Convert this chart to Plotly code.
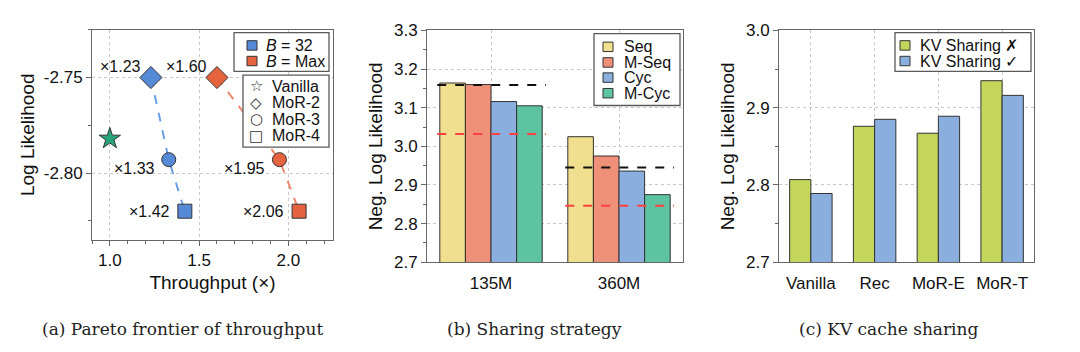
import plotly.graph_objects as go

# ---------------- Data ----------------
# Panel (a): Pareto frontier of throughput
vanilla_tp = [1.0]
vanilla_ll = [-2.782]
mor_names = ["MoR-2", "MoR-3", "MoR-4"]
b32_tp = [1.23, 1.33, 1.42]
b32_ll = [-2.750, -2.793, -2.820]
bmax_tp = [1.60, 1.95, 2.06]
bmax_ll = [-2.750, -2.793, -2.820]
a_xticks = [1.0, 1.5, 2.0]
a_yticks = [-2.75, -2.80]

# Panel (b): Sharing strategy
model_sizes = ["135M", "360M"]
strategies = ["Seq", "M-Seq", "Cyc", "M-Cyc"]
nll_seq = [3.164, 3.025]
nll_mseq = [3.160, 2.975]
nll_cyc = [3.116, 2.936]
nll_mcyc = [3.105, 2.875]
ref_black = [3.159, 2.945]
ref_red = [3.032, 2.846]
b_yticks = [2.7, 2.8, 2.9, 3.0, 3.1, 3.2, 3.3]

# Panel (c): KV cache sharing
kv_models = ["Vanilla", "Rec", "MoR-E", "MoR-T"]
kv_series = ["KV Sharing ✗", "KV Sharing ✓"]
kv_off = [2.807, 2.876, 2.867, 2.935]
kv_on = [2.789, 2.885, 2.889, 2.916]
c_yticks = [2.7, 2.8, 2.9, 3.0]

# ---------------- Style ----------------
SANS = "Liberation Sans, Arial, Helvetica, sans-serif"
SERIF = "DejaVu Serif, serif"
AX = "#666666"
GRID = "#c8c8c8"
EDGE = "#333333"
BLUE = "#5689d6"
BLUE_L = "#6a9fe6"
ORANGE = "#e6633f"
ORANGE_L = "#f0876c"
STAR = "#27a47a"
bar_cols_b = ["#f0df8e", "#ef9078", "#8aaedd", "#5ec3a0"]
bar_cols_c = ["#c3d55a", "#8aaedd"]
label_pos = {"MoR-2": (-8, 11), "MoR-3": (-12, -9), "MoR-4": (-13, 0)}
W, H = 1080, 352

fig = go.Figure()

# ---- Panel (a) ----
for tp, ll, lc, mc in [(b32_tp, b32_ll, BLUE_L, BLUE), (bmax_tp, bmax_ll, ORANGE_L, ORANGE)]:
    fig.add_trace(go.Scatter(
        x=tp, y=ll, mode="lines", xaxis="x", yaxis="y",
        line=dict(color=lc, width=2, dash="dash"), hoverinfo="skip"))
    fig.add_trace(go.Scatter(
        x=tp, y=ll, mode="markers", xaxis="x", yaxis="y", text=mor_names,
        marker=dict(symbol=["diamond", "circle", "square"], size=[17, 14, 14], opacity=1,
                    color=mc, line=dict(color=EDGE, width=1))))
fig.add_trace(go.Scatter(
    x=vanilla_tp, y=vanilla_ll, mode="markers", xaxis="x", yaxis="y", text=["Vanilla"],
    marker=dict(symbol="star", size=16, color=STAR, opacity=1, line=dict(color=EDGE, width=1))))

annotations = []
for tp, ll in [(b32_tp, b32_ll), (bmax_tp, bmax_ll)]:
    for x, y, name in zip(tp, ll, mor_names):
        dx, dy = label_pos[name]
        annotations.append(dict(
            x=x, y=y, xref="x", yref="y", text="×%.2f" % x, showarrow=False,
            xanchor="right", yanchor="middle", xshift=dx, yshift=dy,
            font=dict(family=SANS, size=16, color="#111")))

# ---- Panel (b) ----
b_series = [nll_seq, nll_mseq, nll_cyc, nll_mcyc]
for i, (name, vals) in enumerate(zip(strategies, b_series)):
    fig.add_trace(go.Bar(
        x=model_sizes, y=vals, name=name, xaxis="x2", yaxis="y2",
        width=0.2, offset=-0.4 + 0.2 * i,
        marker=dict(color=bar_cols_b[i], line=dict(color=EDGE, width=1))))

shapes = []
for i in range(len(model_sizes)):
    for vals, col in [(ref_black, "#111111"), (ref_red, "#ff4040")]:
        shapes.append(dict(type="line", xref="x2", yref="y2", x0=i - 0.42, x1=i + 0.43,
                           y0=vals[i], y1=vals[i], layer="above",
                           line=dict(color=col, width=2, dash="dash")))

# ---- Panel (c) ----
for i, (name, vals) in enumerate(zip(kv_series, [kv_off, kv_on])):
    fig.add_trace(go.Bar(
        x=kv_models, y=vals, name=name, xaxis="x3", yaxis="y3",
        width=0.333, offset=-0.333 + 0.333 * i,
        marker=dict(color=bar_cols_c[i], line=dict(color=EDGE, width=1))))

# ---------------- Legends (drawn as boxes + text) ----------------
def px(x):
    return x / W

def py(y):
    return 1 - y / H

def legend_box(x0, y0, x1, y1):
    shapes.append(dict(type="rect", xref="paper", yref="paper", x0=px(x0), x1=px(x1),
                       y0=py(y1), y1=py(y0), fillcolor="white",
                       line=dict(color="#5a5a5a", width=1.3), layer="above"))

def legend_square(cx, cy, color, s=10):
    shapes.append(dict(type="rect", xref="paper", yref="paper",
                       x0=px(cx - s / 2), x1=px(cx + s / 2), y0=py(cy + s / 2), y1=py(cy - s / 2),
                       fillcolor=color, line=dict(color=EDGE, width=1), layer="above"))

def legend_text(x, cy, text, size=16, anchor="left"):
    annotations.append(dict(x=px(x), y=py(cy), xref="paper", yref="paper", text=text,
                            showarrow=False, xanchor=anchor, yanchor="middle",
                            font=dict(family=SANS, size=size, color="#111")))

# (a) batch-size legend
legend_box(234, 25, 329, 66)
for (name, col), cy in zip([("<i>B</i> = 32", BLUE), ("<i>B</i> = Max", ORANGE)], [38.5, 55]):
    legend_square(252, cy, col)
    legend_text(264, cy, name)
# (a) model legend with open symbols
legend_box(243, 70, 329, 146)
glyphs = ["☆", "◇", "○", "□"]
for name, g, cy in zip(["Vanilla"] + mor_names, glyphs, [81.5, 99, 116.5, 134]):
    annotations.append(dict(x=px(256), y=py(cy), xref="paper", yref="paper", text=g,
                            showarrow=False, xanchor="center", yanchor="middle",
                            font=dict(family="DejaVu Sans", size=15, color="#333")))
    legend_text(270, cy, name)
# (b) strategy legend
legend_box(594, 26, 680, 102)
for name, col, cy in zip(strategies, bar_cols_b, [40, 56.5, 72.5, 89]):
    legend_square(608, cy, col)
    legend_text(622, cy, name)
# (c) kv legend
legend_box(895, 25, 1031, 66)
for name, col, cy in zip(kv_series, bar_cols_c, [38.5, 55]):
    legend_square(905, cy, col)
    legend_text(918, cy, name)

# ---------------- Layout ----------------
def axis_common(**kw):
    d = dict(showline=True, linecolor=AX, linewidth=1, mirror=True,
             ticks="outside", ticklen=5, tickcolor=AX, tickwidth=1,
             showgrid=True, gridcolor=GRID, griddash="dot", gridwidth=1,
             zeroline=False, tickfont=dict(family=SANS, size=17, color="#111"),
             title_font=dict(family=SANS, size=19, color="#111"))
    d.update(kw)
    return d

ya, yat = py(244), py(22)
yb, ybt = py(267.7), py(22.7)

layout = dict(
    width=W, height=H, autosize=False,
    margin=dict(l=0, r=0, t=0, b=0),
    paper_bgcolor="white", plot_bgcolor="white",
    barmode="overlay",
    showlegend=False,
    xaxis=axis_common(domain=[px(92), px(333)], anchor="y", range=[0.9, 2.25],
                      tickmode="array", tickvals=a_xticks, ticktext=["%.1f" % v for v in a_xticks],
                      minor=dict(dtick=0.1, tick0=0.9, ticks="outside", ticklen=3, tickcolor=AX, showgrid=False),
                      title=dict(text="Throughput (×)", standoff=6)),
    yaxis=axis_common(domain=[ya, yat], anchor="x", range=[-2.835, -2.725],
                      tickmode="array", tickvals=a_yticks, ticktext=["%.2f" % v for v in a_yticks],
                      minor=dict(dtick=0.025, tick0=-2.75, ticks="outside", ticklen=3, tickcolor=AX, showgrid=False),
                      title=dict(text="Log Likelihood", standoff=4)),
    xaxis2=axis_common(domain=[px(427), px(683)], anchor="y2", range=[-0.5, 1.5],
                       type="category", ticks="", ticklabelstandoff=5, title=None),
    yaxis2=axis_common(domain=[yb, ybt], anchor="x2", range=[2.7, 3.3],
                       tickmode="array", tickvals=b_yticks, ticktext=["%.1f" % v for v in b_yticks],
                       minor=dict(dtick=0.05, tick0=2.7, ticks="outside", ticklen=3, tickcolor=AX, showgrid=False),
                       title=dict(text="Neg. Log Likelihood", standoff=6)),
    xaxis3=axis_common(domain=[px(779), px(1034)], anchor="y3", range=[-0.5, 3.5],
                       type="category", ticks="", ticklabelstandoff=5, title=None),
    yaxis3=axis_common(domain=[yb, ybt], anchor="x3", range=[2.7, 3.0],
                       tickmode="array", tickvals=c_yticks, ticktext=["%.1f" % v for v in c_yticks],
                       minor=dict(dtick=0.05, tick0=2.7, ticks="outside", ticklen=3, tickcolor=AX, showgrid=False),
                       title=dict(text="Neg. Log Likelihood", standoff=6)),
    shapes=shapes,
    annotations=annotations,
)

captions = [("(a) Pareto frontier of throughput", 182), ("(b) Sharing strategy", 534), ("(c) KV cache sharing", 888)]
for text, cx in captions:
    layout["annotations"].append(dict(
        x=px(cx), y=py(338), xref="paper", yref="paper", text=text, showarrow=False,
        xanchor="center", yanchor="middle", font=dict(family=SERIF, size=17, color="#222")))

fig.update_layout(**layout)
fig.write_html("out.html")
